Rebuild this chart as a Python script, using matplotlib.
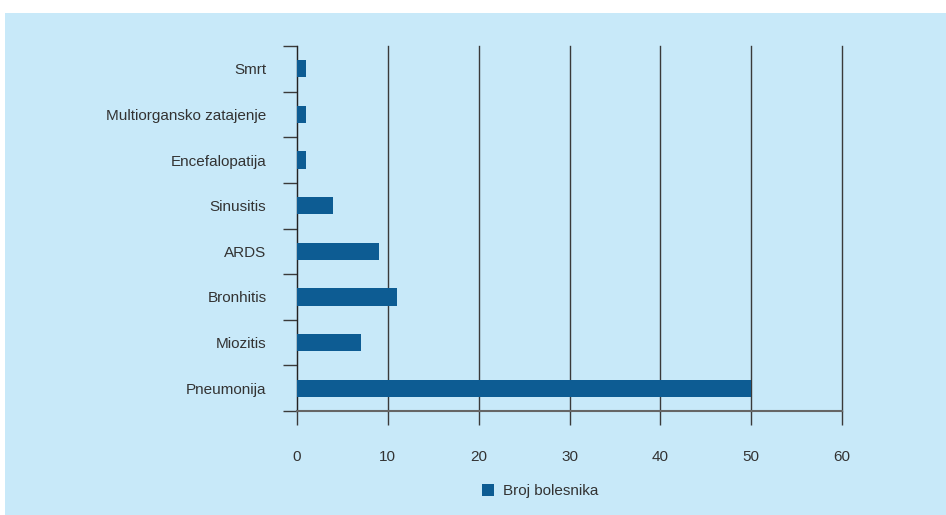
import matplotlib.pyplot as plt
from matplotlib.patches import Rectangle, Patch

categories = ['Pneumonija', 'Miozitis', 'Bronhitis', 'ARDS', 'Sinusitis',
              'Encefalopatija', 'Multiorgansko zatajenje', 'Smrt']
values = [50, 7, 11, 9, 4, 1, 1, 1]
x_ticks = [0, 10, 20, 30, 40, 50, 60]
series_name = 'Broj bolesnika'

bg = '#c8e9f9'
bar_color = '#0d5c93'
line_color = '#3a3a3a'
plt.rcParams['font.family'] = ['Liberation Sans', 'DejaVu Sans']

W, H = 946, 515
fig = plt.figure(figsize=(W / 100, H / 100), dpi=100, facecolor='white')
fig.patches.append(Rectangle((5 / W, 0), 1 - 5 / W, 1 - 13 / H,
                             transform=fig.transFigure, facecolor=bg,
                             edgecolor='none', zorder=-10))

ax = fig.add_axes([297 / W, 1 - 411 / H, (842 - 297) / W, (411 - 46) / H])
ax.set_facecolor(bg)

ypos = list(range(len(categories)))
ax.barh(ypos, values, height=0.38, color=bar_color, zorder=3)

ax.set_xlim(0, 60)
ax.set_ylim(-0.5, len(categories) - 0.5)
ax.set_xticks(x_ticks)
ax.set_xticklabels([str(t) for t in x_ticks])
ax.set_yticks(ypos)
ax.set_yticklabels(categories)
ax.set_yticks([i - 0.5 for i in range(len(categories) + 1)], minor=True)

ax.grid(axis='x', color=line_color, linewidth=1, zorder=1)
for gl in ax.get_xgridlines():
    gl.set_clip_on(False)
for s in ['top', 'right']:
    ax.spines[s].set_visible(False)
ax.spines['left'].set_color('#222222')
ax.spines['bottom'].set_color('#666666')
ax.spines['bottom'].set_linewidth(1.5)

ax.tick_params(axis='x', length=10, width=1, color=line_color, pad=18,
               labelsize=11, labelcolor='#333333')
ax.tick_params(axis='y', which='major', length=0, pad=22,
               labelsize=11, labelcolor='#333333')
ax.tick_params(axis='y', which='minor', length=10, width=1, color=line_color)

handle = Patch(facecolor=bar_color, edgecolor='none')
fig.legend([handle], [series_name], loc='center',
           bbox_to_anchor=(540 / W, 1 - 491 / H), frameon=False,
           fontsize=11, handlelength=0.8, handleheight=0.8, handletextpad=0.6,
           labelcolor='#333333')

fig.savefig('out.png', dpi=100, facecolor='white')
